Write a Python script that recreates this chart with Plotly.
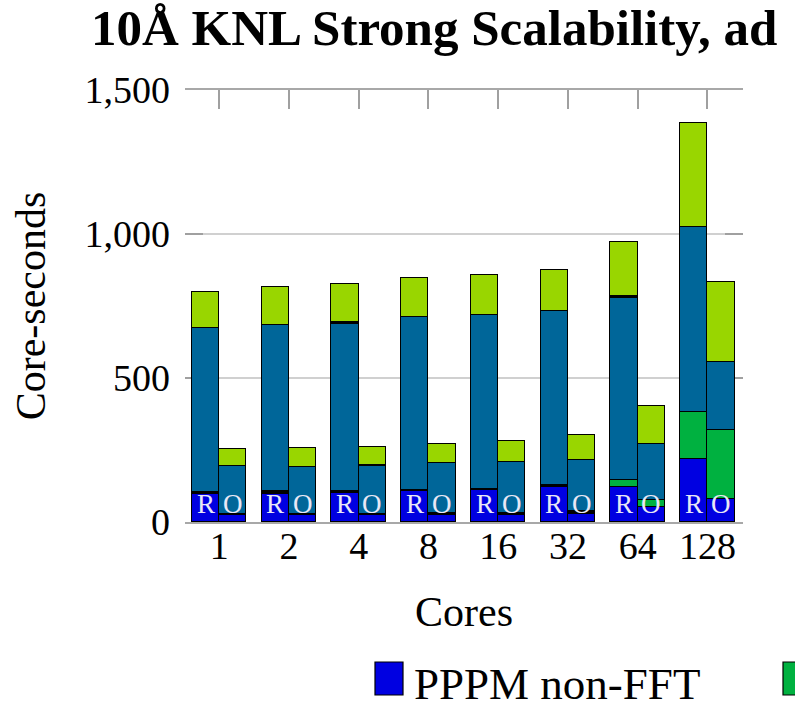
import plotly.graph_objects as go

# Core counts (categories) and the two builds compared per core count
cores = ["1", "2", "4", "8", "16", "32", "64", "128"]
builds = ["R", "O"]

# Stacked time components (core-seconds), bottom to top
pppm_nonfft_R = [98, 98, 100, 106, 111, 120, 122, 219]
pppm_fft_R    = [0, 0, 0, 6, 0, 0, 25, 163]
comm_R        = [6, 8, 6, 0, 5, 7, 0, 0]
pair_R        = [569, 577, 582, 601, 603, 606, 631, 642]
neigh_R       = [0, 0, 7, 0, 0, 0, 8, 0]
other_R       = [127, 132, 131, 135, 139, 142, 186, 362]

pppm_nonfft_O = [24, 24, 24, 26, 26, 29, 52, 81]
pppm_fft_O    = [0, 0, 0, 0, 0, 0, 26, 238]
comm_O        = [3, 3, 4, 4, 4, 10, 0, 0]
pair_O        = [167, 164, 167, 175, 178, 175, 192, 236]
neigh_O       = [0, 0, 4, 0, 0, 0, 0, 0]
other_O       = [61, 67, 60, 65, 72, 87, 133, 280]

y_ticks = [0, 500, 1000, 1500]

series = [
    ("PPPM non-FFT", "#0000e1", pppm_nonfft_R, pppm_nonfft_O),
    ("PPPM FFT", "#00b140", pppm_fft_R, pppm_fft_O),
    ("Comm", "#000000", comm_R, comm_O),
    ("Pair", "#006699", pair_R, pair_O),
    ("Neigh", "#000000", neigh_R, neigh_O),
    ("Other", "#99d600", other_R, other_O),
]

W, H = 795, 702
ML, MR, MT, MB = 185, 52, 90, 180
PW, PH = W - ML - MR, H - MT - MB
BAR_W = 0.39
OFF = BAR_W / 2

idx = list(range(len(cores)))
x_R = [i - OFF for i in idx]
x_O = [i + OFF for i in idx]

fig = go.Figure()
for name, color, vals_R, vals_O in series:
    for xs, vals in ((x_R, vals_R), (x_O, vals_O)):
        fig.add_trace(go.Bar(
            x=xs, y=vals, width=BAR_W, name=name,
            marker=dict(color=color, line=dict(color="black", width=1.2)),
            showlegend=False,
        ))

SERIF = "Liberation Serif, Times New Roman, DejaVu Serif, serif"


def px_x(px):
    return (px - ML) / PW


def px_y(py):
    return (H - MB - py) / PH


annotations = []
# Build markers at the foot of each bar
for xs, lab in ((x_R, builds[0]), (x_O, builds[1])):
    for xv in xs:
        annotations.append(dict(
            x=xv, y=62, xref="x", yref="y", text=lab, showarrow=False,
            font=dict(family=SERIF, size=27, color="#e8e8f6"),
            xanchor="center", yanchor="middle",
        ))

# Title
annotations.append(dict(
    x=px_x(89), y=px_y(28), xref="paper", yref="paper",
    text="<b>10Å KNL Strong Scalability, ad</b>", showarrow=False,
    font=dict(family=SERIF, size=51, color="black"),
    xanchor="left", yanchor="middle",
))

# Legend row
annotations.append(dict(
    x=px_x(412), y=px_y(684), xref="paper", yref="paper",
    text="PPPM non-FFT", showarrow=False,
    font=dict(family=SERIF, size=45, color="black"),
    xanchor="left", yanchor="middle",
))
shapes = [
    dict(type="rect", xref="paper", yref="paper",
         x0=px_x(375), x1=px_x(403), y0=px_y(695), y1=px_y(662),
         fillcolor=series[0][1], line=dict(color="black", width=1.2)),
    dict(type="rect", xref="paper", yref="paper",
         x0=px_x(783), x1=px_x(811), y0=px_y(695), y1=px_y(662),
         fillcolor=series[1][1], line=dict(color="black", width=1.2)),
]

fig.update_layout(
    width=W, height=H,
    margin=dict(l=ML, r=MR, t=MT, b=MB, pad=0),
    barmode="stack",
    bargap=0,
    plot_bgcolor="white", paper_bgcolor="white",
    font=dict(family=SERIF, color="black"),
    annotations=annotations,
    shapes=shapes,
    xaxis=dict(
        range=[-0.49, 7.51],
        tickmode="array", tickvals=idx, ticktext=cores,
        tickfont=dict(family=SERIF, size=38),
        showgrid=False, zeroline=False,
        showline=True, linecolor="#a8a8a8", linewidth=1.5,
        mirror="ticks", ticks="inside", ticklen=19,
        tickcolor="#a0a0a0", tickwidth=1.5,
        layer="below traces",
        ticklabelstandoff=-10,
        title=dict(text="Cores", font=dict(family=SERIF, size=42), standoff=30),
    ),
    yaxis=dict(
        range=[0, 1500],
        tickmode="array", tickvals=y_ticks,
        tickformat=",d",
        tickfont=dict(family=SERIF, size=38),
        showgrid=True, gridcolor="#d0d0d0", gridwidth=1.5,
        zeroline=False, showline=False,
        mirror="ticks", ticks="inside", ticklen=18,
        tickcolor="#a0a0a0", tickwidth=1.5,
        layer="below traces",
        ticklabelstandoff=14,
        title=dict(text="Core-seconds", font=dict(family=SERIF, size=42), standoff=25),
    ),
)

fig.write_html("out.html")
